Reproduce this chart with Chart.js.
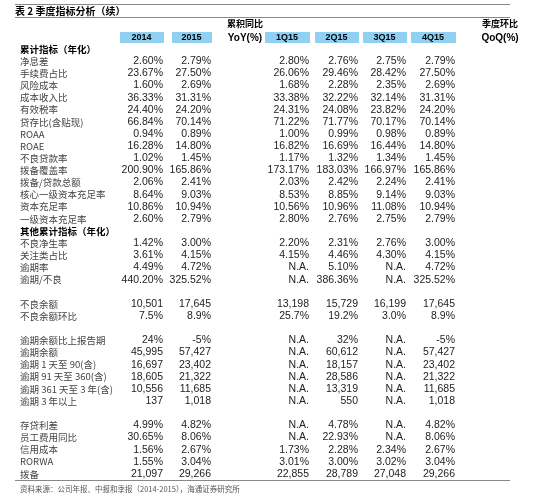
<!DOCTYPE html>
<html><head><meta charset="utf-8">
<script src="https://cdn.jsdelivr.net/npm/chart.js@4/dist/chart.umd.min.js"></script>
<style>html,body{margin:0;padding:0;background:#fff}#w{width:533px;height:500px}</style>
</head><body><div id="w"><canvas id="c"></canvas></div>
<script>
const title = "表 2 季度指标分析（续）";
const source = "资料来源：公司年报、中报和季报（2014-2015），海通证券研究所";
const colHeaders = ["2014","2015","1Q15","2Q15","3Q15","4Q15"];
const rowLabels = ["累计指标（年化）","净息差","手续费占比","风险成本","成本收入比","有效税率","贷存比(含贴现)","ROAA","ROAE","不良贷款率","拨备覆盖率","拨备/贷款总额","核心一级资本充足率","资本充足率","一级资本充足率","其他累计指标（年化）","不良净生率","关注类占比","逾期率","逾期/不良","","不良余额","不良余额环比","","逾期余额比上报告期","逾期余额","逾期 1 天至 90(含)","逾期 91 天至 360(含)","逾期 361 天至 3 年(含)","逾期 3 年以上","","存贷利差","员工费用同比","信用成本","RORWA","拨备"];
const sectionRows = [0,15];
const v2014 = ["","2.60%","23.67%","1.60%","36.33%","24.40%","66.84%","0.94%","16.28%","1.02%","200.90%","2.06%","8.64%","10.86%","2.60%","","1.42%","3.61%","4.49%","440.20%","","10,501","7.5%","","24%","45,995","16,697","18,605","10,556","137","","4.99%","30.65%","1.56%","1.55%","21,097"];
const v2015 = ["","2.79%","27.50%","2.69%","31.31%","24.20%","70.14%","0.89%","14.80%","1.45%","165.86%","2.41%","9.03%","10.94%","2.79%","","3.00%","4.15%","4.72%","325.52%","","17,645","8.9%","","-5%","57,427","23,402","21,322","11,685","1,018","","4.82%","8.06%","2.67%","3.04%","29,266"];
const q1 = ["","2.80%","26.06%","1.68%","33.38%","24.31%","71.22%","1.00%","16.82%","1.17%","173.17%","2.03%","8.53%","10.56%","2.80%","","2.20%","4.15%","N.A.","N.A.","","13,198","25.7%","","N.A.","N.A.","N.A.","N.A.","N.A.","N.A.","","N.A.","N.A.","1.73%","3.01%","22,855"];
const q2 = ["","2.76%","29.46%","2.28%","32.22%","24.08%","71.77%","0.99%","16.69%","1.32%","183.03%","2.42%","8.85%","10.96%","2.76%","","2.31%","4.46%","5.10%","386.36%","","15,729","19.2%","","32%","60,612","18,157","28,586","13,319","550","","4.78%","22.93%","2.28%","3.00%","28,789"];
const q3 = ["","2.75%","28.42%","2.35%","32.14%","23.82%","70.17%","0.98%","16.44%","1.34%","166.97%","2.24%","9.14%","11.08%","2.75%","","2.76%","4.30%","N.A.","N.A.","","16,199","3.0%","","N.A.","N.A.","N.A.","N.A.","N.A.","N.A.","","N.A.","N.A.","2.34%","3.02%","27,048"];
const q4 = ["","2.79%","27.50%","2.69%","31.31%","24.20%","70.14%","0.89%","14.80%","1.45%","165.86%","2.41%","9.03%","10.94%","2.79%","","3.00%","4.15%","4.72%","325.52%","","17,645","8.9%","","-5%","57,427","23,402","21,322","11,685","1,018","","4.82%","8.06%","2.67%","3.04%","29,266"];

const series = [v2014,v2015,q1,q2,q3,q4];
const colRight = [163,211,309,358,406,455];
const colLeft = [120,172,265,315,363,411];
const rowIdx = rowLabels.map((_,i)=>i);

const tablePlugin = {
  id:'table',
  afterDraw(chart){
    const ctx = chart.ctx, x = chart.scales.x, y = chart.scales.y;
    const X = v=>x.getPixelForValue(v), Y = i=>y.getPixelForValue(i);
    ctx.save();
    ctx.textBaseline='middle';
    ctx.strokeStyle='#888'; ctx.lineWidth=1;
    [4.5,17.5,480.5].forEach(yy=>{ctx.beginPath();ctx.moveTo(X(15),yy);ctx.lineTo(X(510),yy);ctx.stroke();});
    ctx.fillStyle='#000'; ctx.font='bold 10px "Noto Sans CJK SC"'; ctx.textAlign='left';
    ctx.fillText(title,X(15),11);
    ctx.fillStyle='#8fd0f3';
    colLeft.forEach((l,k)=>{ctx.fillRect(X(l),32,X(colRight[k]+1)-X(l),11);});
    ctx.fillStyle='#000'; ctx.font='bold 9px "Liberation Sans"'; ctx.textAlign='center';
    colHeaders.forEach((h,k)=>ctx.fillText(h,(X(colLeft[k])+X(colRight[k]))/2,38));
    ctx.font='bold 10px "Liberation Sans"';
    ctx.fillText("YoY(%)",X(245),38); ctx.fillText("QoQ(%)",X(500),38);
    ctx.font='bold 9px "Noto Sans CJK SC"';
    ctx.fillText("累积同比",X(245),24); ctx.fillText("季度环比",X(500),24);
    rowIdx.forEach(i=>{
      const yy = Y(i);
      const isSec = sectionRows.includes(i);
      ctx.textAlign='left';
      ctx.font = (isSec?'bold ':'')+'9.5px "Noto Sans CJK SC"';
      ctx.fillStyle = isSec?'#000':'#444';
      ctx.fillText(rowLabels[i],X(20),yy);
      ctx.textAlign='right'; ctx.fillStyle='#222';
      ctx.font='10.5px "Liberation Sans"';
      series.forEach((s,k)=>{ if(s[i]) ctx.fillText(s[i],X(colRight[k]),yy); });
    });
    ctx.textAlign='left'; ctx.fillStyle='#555'; ctx.font='7.5px "Noto Sans CJK SC"';
    ctx.fillText(source,X(20),489);
    ctx.restore();
  }
};

new Chart(document.getElementById('c'),{
  type:'scatter',
  data:{datasets:[{data:[],pointRadius:0}]},
  options:{
    responsive:true, maintainAspectRatio:false, animation:false,
    layout:{padding:{top:43,bottom:20,left:0,right:0}},
    plugins:{legend:{display:false},tooltip:{enabled:false}},
    scales:{
      x:{type:'linear',min:0,max:533,display:false},
      y:{type:'category',labels:rowIdx,offset:true,display:false}
    }
  },
  plugins:[tablePlugin]
});
</script></body></html>
